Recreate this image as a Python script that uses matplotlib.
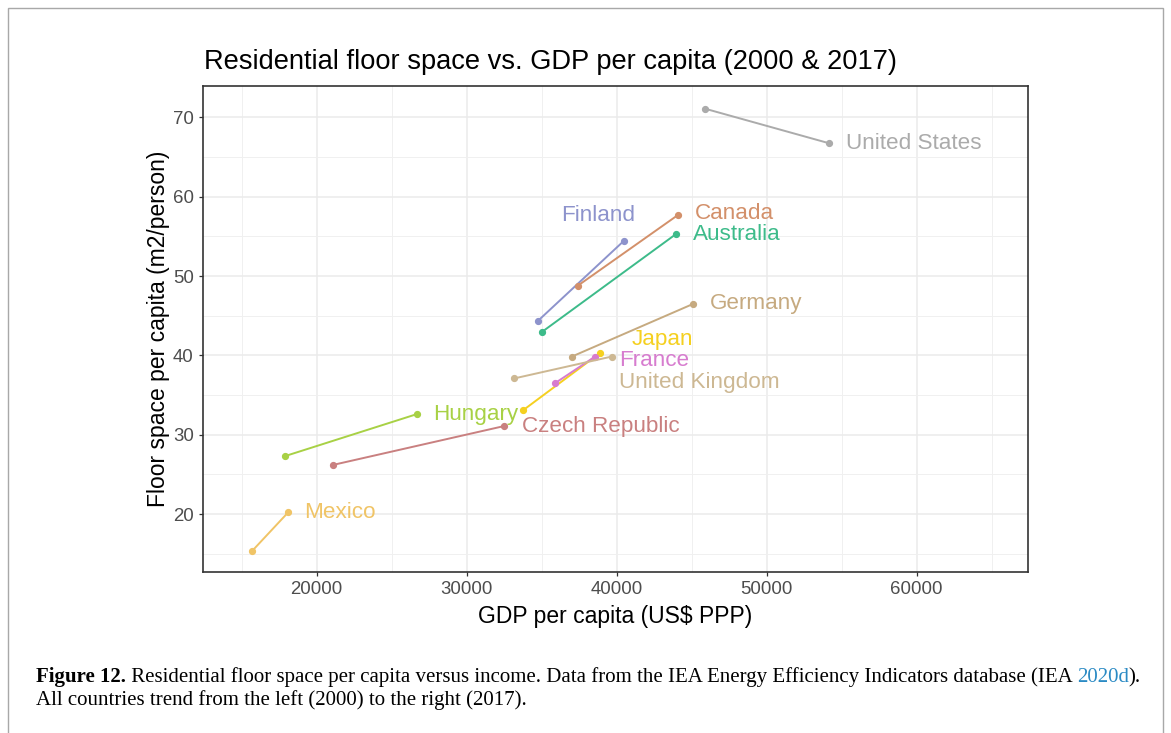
import matplotlib
matplotlib.use("Agg")
import matplotlib.pyplot as plt
from matplotlib.patches import Rectangle
from matplotlib.ticker import MultipleLocator

# data: 2000 -> 2017
countries = ["United States", "Finland", "Canada", "Australia", "Germany", "Japan",
             "France", "United Kingdom", "Hungary", "Czech Republic", "Mexico"]
gdp_2000 = [45870, 34750, 37420, 35050, 37010, 33770, 35890, 33180, 17880, 21100, 15720]
gdp_2017 = [54130, 40460, 44090, 43960, 45110, 38890, 38520, 39660, 26680, 32510, 18090]
floor_2000 = [71.1, 44.35, 48.8, 43.0, 39.85, 33.1, 36.5, 37.1, 27.3, 26.2, 15.4]
floor_2017 = [66.75, 54.4, 57.7, 55.3, 46.5, 40.3, 39.8, 39.85, 32.6, 31.1, 20.2]

colors = ["#ababab", "#8d93cc", "#d3906a", "#3dbb8a", "#c6aa80", "#f5d020",
          "#d77ccf", "#cdb893", "#a8d145", "#c98080", "#f0c466"]
# label offsets from the 2017 point (like ggrepel placed them)
label_dx = [1130, -4170, 1100, 1150, 1100, 2110, 1650, 510, 1100, 1160, 1100]
label_dy = [0, 3.2, 0.15, -0.1, 0, 1.75, -0.5, -3.3, 0, -0.1, 0]

W, H = 1171, 733
fig = plt.figure(figsize=(W / 100, H / 100), dpi=100)
plt.rcParams['font.family'] = ['Liberation Sans', 'DejaVu Sans']

# thin grey frame around the whole figure
fig.patches.append(Rectangle((8 / W, -0.1), (1163 - 8) / W, 1.1 - 8 / H,
                             transform=fig.transFigure, fill=False,
                             edgecolor="#a8a8a8", lw=1.0))

ax = fig.add_axes([203 / W, 1 - 572 / H, (1028 - 203) / W, (572 - 86) / H])

for i, c in enumerate(countries):
    ax.plot([gdp_2000[i], gdp_2017[i]], [floor_2000[i], floor_2017[i]],
            color=colors[i], lw=1.4, marker="o", ms=4.2, zorder=3)
    ax.text(gdp_2017[i] + label_dx[i], floor_2017[i] + label_dy[i], c,
            color=colors[i], fontsize=16.2, ha="left", va="center", zorder=4)

ax.set_xlim(12420, 67420)
ax.set_ylim(12.7, 73.95)
ax.xaxis.set_major_locator(MultipleLocator(10000))
ax.xaxis.set_minor_locator(MultipleLocator(5000))
ax.yaxis.set_major_locator(MultipleLocator(10))
ax.yaxis.set_minor_locator(MultipleLocator(5))
ax.grid(which="major", color="#ebebeb", lw=1.1)
ax.grid(which="minor", color="#f0f0f0", lw=0.7)
ax.set_axisbelow(True)
ax.tick_params(which="minor", length=0)
ax.tick_params(which="major", length=3.2, width=0.9, color="#333333",
               labelcolor="#4d4d4d", labelsize=13.4, pad=3.5)
for s in ax.spines.values():
    s.set_color("#333333")
    s.set_linewidth(1.2)

ax.set_xlabel("GDP per capita (US$ PPP)", fontsize=16.5, va="center")
ax.xaxis.set_label_coords(0.5, -(617 - 572) / 486)
ax.set_ylabel("Floor space per capita (m2/person)", fontsize=16.5, va="center")
ax.yaxis.set_label_coords(-(203 - 158) / 825, 0.5)

fig.text(204 / W, 1 - 62 / H, "Residential floor space vs. GDP per capita (2000 & 2017)",
         fontsize=19.6, ha="left", va="center")

# caption, built piece by piece so the bold / blue parts sit inline
renderer = fig.canvas.get_renderer()
serif = ["Liberation Serif", "DejaVu Serif"]
pieces = [("Figure 12.", "bold", "black"),
          (" Residential floor space per capita versus income. Data from the IEA "
           "Energy Efficiency Indicators database (IEA ", "normal", "black"),
          ("2020d", "normal", "#2a8ac4"),
          (").", "normal", "black")]
cap_size = 15.0
x = 36
for txt, wt, col in pieces:
    t = fig.text(x / W, 1 - 682 / H, txt, fontsize=cap_size, fontweight=wt,
                 color=col, family=serif, ha="left", va="baseline")
    bb = t.get_window_extent(renderer)
    x = bb.x1
fig.text(36 / W, 1 - 705 / H, "All countries trend from the left (2000) to the right (2017).",
         fontsize=cap_size, family=serif, ha="left", va="baseline")

fig.savefig("out.png", dpi=100)
